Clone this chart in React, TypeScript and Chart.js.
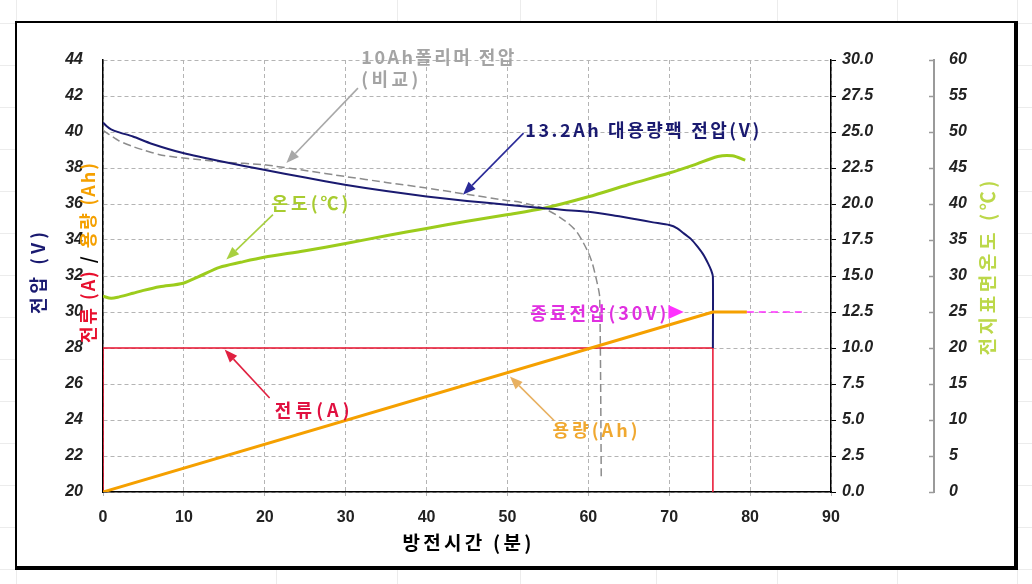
import React, { useEffect, useRef } from "react";
import { Chart, registerables } from "chart.js";

Chart.register(...registerables);

// ---------------- data ----------------
// 13.2Ah large-capacity pack voltage (V), left axis
const v13Time = [0, 0.5, 1, 2, 3.7, 6, 9.9, 15, 19.9, 25, 29.9, 35, 40, 45, 49.9, 54.5, 60, 63, 65.9, 68, 70, 71, 71.8, 72.7, 73.5, 74.2, 74.8, 75.2, 75.4, 75.4];
const v13Volt = [40.53, 40.3, 40.15, 39.98, 39.75, 39.35, 38.83, 38.33, 37.9, 37.47, 37.07, 36.72, 36.42, 36.17, 35.96, 35.76, 35.57, 35.38, 35.15, 34.98, 34.83, 34.65, 34.37, 34.05, 33.63, 33.2, 32.7, 32.3, 31.96, 28.0];

// 10Ah polymer voltage (comparison), left axis
const v10Time = [0, 0.8, 2, 3.7, 5, 7, 9, 12, 15, 19.9, 25, 29.9, 35, 40, 44.5, 49.9, 51.6, 53, 54.5, 56, 57.5, 58.5, 59.2, 60, 60.5, 61, 61.4, 61.6];
const v10Volt = [40.1, 39.85, 39.5, 39.19, 39.0, 38.74, 38.6, 38.46, 38.33, 38.18, 37.86, 37.53, 37.2, 36.89, 36.57, 36.2, 36.1, 35.95, 35.76, 35.4, 34.93, 34.5, 34.0, 33.3, 32.7, 31.8, 30.85, 20.67];

// battery surface temperature (°C), far right axis
const tempTime = [0, 1, 2, 3.7, 5, 7, 9.9, 12, 14.4, 17, 19.9, 25, 30, 35, 40, 45, 49.9, 54.5, 60, 65, 70, 73, 76, 77.8, 79.4];
const tempVal = [27.2, 26.9, 27.1, 27.6, 28.0, 28.5, 29.0, 30.0, 31.2, 31.9, 32.6, 33.5, 34.5, 35.6, 36.6, 37.6, 38.5, 39.4, 41.0, 42.7, 44.3, 45.4, 46.6, 46.7, 46.1];

// current (A), right axis 0-30
const currentTime = [0, 0, 75.4, 75.4];
const currentVal = [0, 10, 10, 0];

// capacity (Ah), right axis 0-30
const capTime = [0, 75.4, 79.6];
const capVal = [0, 12.5, 12.5];

// end-of-discharge voltage marker (30V), left axis
const endTime = [79.6, 86.8];
const endVal = [30, 30];

// axes ranges
const xRange = [0, 90, 10];
const vRange = [20, 44, 2];
const aRange = [0, 30, 2.5];
const tRange = [0, 60, 5];

const pts = (xs: number[], ys: number[]) => xs.map((x, i) => ({ x, y: ys[i] }));

// ---------------- styles ----------------
const NUM = "'Liberation Sans', Arial, sans-serif";
const KR = "'Noto Sans CJK KR', 'Noto Sans', sans-serif";
const NAVY = "#1a1a70";
const GREEN = "#9ccc1c";
const RED = "#e8102e";
const ORANGE = "#f5a000";
const MAGENTA = "#ff30ff";

// annotations (positioned in data coordinates: minutes / volts)
const notes = [
  { text: "10Ah폴리머 전압", t: 31.94, v: 44.16, w: 153, color: "#a4a4a4" },
  { text: "(비교)", t: 31.94, v: 42.91, w: 57, color: "#a4a4a4" },
  { text: "13.2Ah 대용량팩 전압(V)", t: 52.2, v: 40.13, w: 234, color: NAVY },
  { text: "온도(℃)", t: 20.82, v: 36.07, w: 77, color: "#a8cc30" },
  { text: "전류(A)", t: 21.22, v: 24.57, w: 75, color: "#e01040" },
  { text: "용량(Ah)", t: 55.57, v: 23.41, w: 85, color: "#f0a830" },
  { text: "종료전압(30V)", t: 52.83, v: 29.94, w: 136, color: "#e030e0" },
];
const arrows = [
  { from: [31.52, 42.44], to: [22.67, 38.28], color: "#a8a8a8" },
  { from: [51.99, 39.94], to: [44.5, 36.52], color: "#2a2a98" },
  { from: [21.01, 35.41], to: [15.25, 32.91], color: "#a8d040" },
  { from: [20.6, 25.22], to: [15.04, 27.91], color: "#e02040" },
  { from: [55.79, 23.96], to: [50.3, 26.42], color: "#e8b060" },
];
const endMarker = { t0: 69.9, t1: 71.8, v: 30 };

function fitText(ctx: CanvasRenderingContext2D, text: string, x: number, y: number, width: number, font: string, color: string) {
  ctx.save();
  ctx.font = font;
  ctx.fillStyle = color;
  ctx.textBaseline = "middle";
  ctx.textAlign = "left";
  (ctx as any).letterSpacing = "0px";
  const n = Array.from(text).length;
  const w0 = ctx.measureText(text).width;
  const s = n > 1 ? (width - w0) / (n - 1) : 0;
  (ctx as any).letterSpacing = s + "px";
  ctx.fillText(text, x, y);
  ctx.restore();
}

function fitSegments(ctx: CanvasRenderingContext2D, segs: [string, string][], cx: number, cy: number, length: number, font: string, rotate: boolean) {
  ctx.save();
  ctx.translate(cx, cy);
  if (rotate) ctx.rotate(-Math.PI / 2);
  ctx.font = font;
  ctx.textBaseline = "middle";
  ctx.textAlign = "left";
  const full = segs.map((s) => s[0]).join("");
  const n = Array.from(full).length;
  (ctx as any).letterSpacing = "0px";
  const w0 = ctx.measureText(full).width;
  const s = n > 1 ? (length - w0) / (n - 1) : 0;
  (ctx as any).letterSpacing = s + "px";
  let x = -length / 2;
  for (const [t, c] of segs) {
    ctx.fillStyle = c;
    ctx.fillText(t, x, 0);
    x += ctx.measureText(t).width;
  }
  ctx.restore();
}

function drawArrow(ctx: CanvasRenderingContext2D, x1: number, y1: number, x2: number, y2: number, color: string) {
  const ang = Math.atan2(y2 - y1, x2 - x1);
  const hl = 13, hw = 5;
  const bx = x2 - hl * Math.cos(ang), by = y2 - hl * Math.sin(ang);
  ctx.save();
  ctx.strokeStyle = color;
  ctx.fillStyle = color;
  ctx.lineWidth = 1.6;
  ctx.beginPath();
  ctx.moveTo(x1, y1);
  ctx.lineTo(bx, by);
  ctx.stroke();
  ctx.beginPath();
  ctx.moveTo(x2, y2);
  ctx.lineTo(bx + hw * Math.sin(ang), by - hw * Math.cos(ang));
  ctx.lineTo(bx - hw * Math.sin(ang), by + hw * Math.cos(ang));
  ctx.closePath();
  ctx.fill();
  ctx.restore();
}

const decor = {
  id: "decor",
  beforeDraw(chart: any) {
    const ctx: CanvasRenderingContext2D = chart.ctx;
    const W = chart.width, H = chart.height;
    ctx.save();
    ctx.fillStyle = "#ffffff";
    ctx.fillRect(0, 0, W, H);
    // faint spreadsheet cells outside the frame
    ctx.strokeStyle = "#ececec";
    ctx.lineWidth = 1;
    for (const gx of [16, 276, 397, 520, 656, 777, 897, 1017]) {
      ctx.beginPath(); ctx.moveTo(gx + 0.5, 0); ctx.lineTo(gx + 0.5, H); ctx.stroke();
    }
    for (let gy = 23; gy < H; gy += 42) {
      ctx.beginPath(); ctx.moveTo(0, gy + 0.5); ctx.lineTo(W, gy + 0.5); ctx.stroke();
    }
    ctx.fillStyle = "#ffffff";
    ctx.fillRect(16, 22, 1001, 546);
    ctx.restore();
  },
  afterDraw(chart: any) {
    const ctx: CanvasRenderingContext2D = chart.ctx;
    const { x, y, y3 } = chart.scales;
    const ca = chart.chartArea;
    ctx.save();
    // far-right axis tick marks (pointing left)
    ctx.strokeStyle = "#9a9a9a";
    ctx.lineWidth = 1.5;
    for (const tk of y3.ticks) {
      const py = Math.round(y3.getPixelForValue(tk.value)) + 0.5;
      ctx.beginPath();
      ctx.moveTo(y3.left - 5, py);
      ctx.lineTo(y3.left, py);
      ctx.stroke();
    }
    // outer frame
    ctx.strokeStyle = "#000";
    ctx.lineWidth = 2;
    ctx.beginPath();
    ctx.moveTo(1016, 22); ctx.lineTo(16, 22); ctx.lineTo(16, 568);
    ctx.stroke();
    ctx.lineWidth = 4;
    ctx.beginPath();
    ctx.moveTo(15, 568); ctx.lineTo(1016, 568); ctx.lineTo(1016, 21);
    ctx.stroke();
    ctx.restore();

    // axis titles
    fitSegments(ctx, [["방전시간 (분)", "#000"]], (ca.left + ca.right) / 2, 543, 129, `bold 19px ${KR}`, false);
    fitSegments(ctx, [["전압 (V)", NAVY]], 38, 273, 82, `bold 18px ${KR}`, true);
    fitSegments(ctx, [["전류 (A)", RED], [" / ", "#000"], ["용량 (Ah)", ORANGE]], 88, 253, 180, `bold 18px ${KR}`, true);
    fitSegments(ctx, [["전지표면온도 (℃)", "#bcd84a"]], 988, 268, 175, `bold 19px ${KR}`, true);

    // annotations
    for (const a of arrows) {
      drawArrow(ctx, x.getPixelForValue(a.from[0]), y.getPixelForValue(a.from[1]), x.getPixelForValue(a.to[0]), y.getPixelForValue(a.to[1]), a.color);
    }
    for (const n of notes) {
      fitText(ctx, n.text, x.getPixelForValue(n.t), y.getPixelForValue(n.v), n.w, `bold 18px ${KR}`, n.color);
    }
    const mx0 = x.getPixelForValue(endMarker.t0), mx1 = x.getPixelForValue(endMarker.t1), my = y.getPixelForValue(endMarker.v);
    ctx.save();
    ctx.fillStyle = MAGENTA;
    ctx.beginPath();
    ctx.moveTo(mx0, my - 7);
    ctx.lineTo(mx1, my);
    ctx.lineTo(mx0, my + 7);
    ctx.closePath();
    ctx.fill();
    ctx.restore();
  },
};

export default function App() {
  const ref = useRef<HTMLCanvasElement | null>(null);
  useEffect(() => {
    if (!ref.current) return;
    const gridColor = "#b4b4b4";
    const chart = new Chart(ref.current, {
      type: "line",
      data: {
        datasets: [
          { label: "end", data: pts(endTime, endVal), yAxisID: "y", borderColor: MAGENTA, borderWidth: 1.5, borderDash: [7, 5], pointRadius: 0, order: 1, tension: 0 },
          { label: "capacity", data: pts(capTime, capVal), yAxisID: "y2", borderColor: ORANGE, borderWidth: 3, pointRadius: 0, order: 2, tension: 0 },
          { label: "v13", data: pts(v13Time, v13Volt), yAxisID: "y", borderColor: NAVY, borderWidth: 2, pointRadius: 0, order: 3, tension: 0.2 },
          { label: "current", data: pts(currentTime, currentVal), yAxisID: "y2", borderColor: RED, borderWidth: 1.5, pointRadius: 0, order: 4, tension: 0 },
          { label: "v10", data: pts(v10Time, v10Volt), yAxisID: "y", borderColor: "#8c8c8c", borderWidth: 1.5, borderDash: [8, 4], pointRadius: 0, order: 5, tension: 0.2 },
          { label: "temp", data: pts(tempTime, tempVal), yAxisID: "y3", borderColor: GREEN, borderWidth: 3, pointRadius: 0, order: 6, tension: 0.3 },
        ],
      },
      options: {
        animation: false,
        responsive: false,
        devicePixelRatio: 1,
        parsing: false as any,
        layout: { padding: { top: 60, left: 0, right: 0, bottom: 0 } },
        plugins: { legend: { display: false }, tooltip: { enabled: false }, title: { display: false } },
        elements: { line: { borderCapStyle: "butt", borderJoinStyle: "round" } },
        scales: {
          x: {
            type: "linear", min: xRange[0], max: xRange[1],
            ticks: { stepSize: xRange[2], maxTicksLimit: 20, autoSkip: false, color: "#222", font: { family: NUM, size: 16, weight: "bold" }, padding: 12 },
            grid: { color: gridColor, lineWidth: 1, tickLength: 4 },
            border: { display: true, color: "#000", width: 1.5, dash: [4, 3] },
            afterFit: (s: any) => { s.height = 92; },
          },
          y: {
            type: "linear", position: "left", min: vRange[0], max: vRange[1],
            ticks: { stepSize: vRange[2], maxTicksLimit: 20, autoSkip: false, color: "#222", font: { family: NUM, size: 16, weight: "bold", style: "italic" }, padding: 20 },
            grid: { color: gridColor, lineWidth: 1, drawTicks: false },
            border: { display: true, color: "#000", width: 1.5, dash: [4, 3] },
            afterFit: (s: any) => { s.width = 103; },
          },
          y2: {
            type: "linear", position: "right", min: aRange[0], max: aRange[1],
            ticks: { stepSize: aRange[2], maxTicksLimit: 20, autoSkip: false, color: "#222", font: { family: NUM, size: 16, weight: "bold", style: "italic" }, padding: 6, callback: (v: any) => Number(v).toFixed(1) },
            grid: { drawOnChartArea: false, tickLength: 5, color: "#000", lineWidth: 1 },
            border: { display: true, color: "#000", width: 1.5 },
            afterFit: (s: any) => { s.width = 103; },
          },
          y3: {
            type: "linear", position: "right", min: tRange[0], max: tRange[1],
            ticks: { stepSize: tRange[2], maxTicksLimit: 20, autoSkip: false, color: "#222", font: { family: NUM, size: 16, weight: "bold", style: "italic" }, padding: 15 },
            grid: { drawOnChartArea: false, drawTicks: false },
            border: { display: true, color: "#9a9a9a", width: 2 },
            afterFit: (s: any) => { s.width = 98; },
          },
        },
      } as any,
      plugins: [decor],
    });
    return () => chart.destroy();
  }, []);
  return (
    <div style={{ position: "absolute", left: 0, top: 0, width: 1032, height: 584 }}>
      <canvas ref={ref} width={1032} height={584} style={{ display: "block" }} />
    </div>
  );
}
